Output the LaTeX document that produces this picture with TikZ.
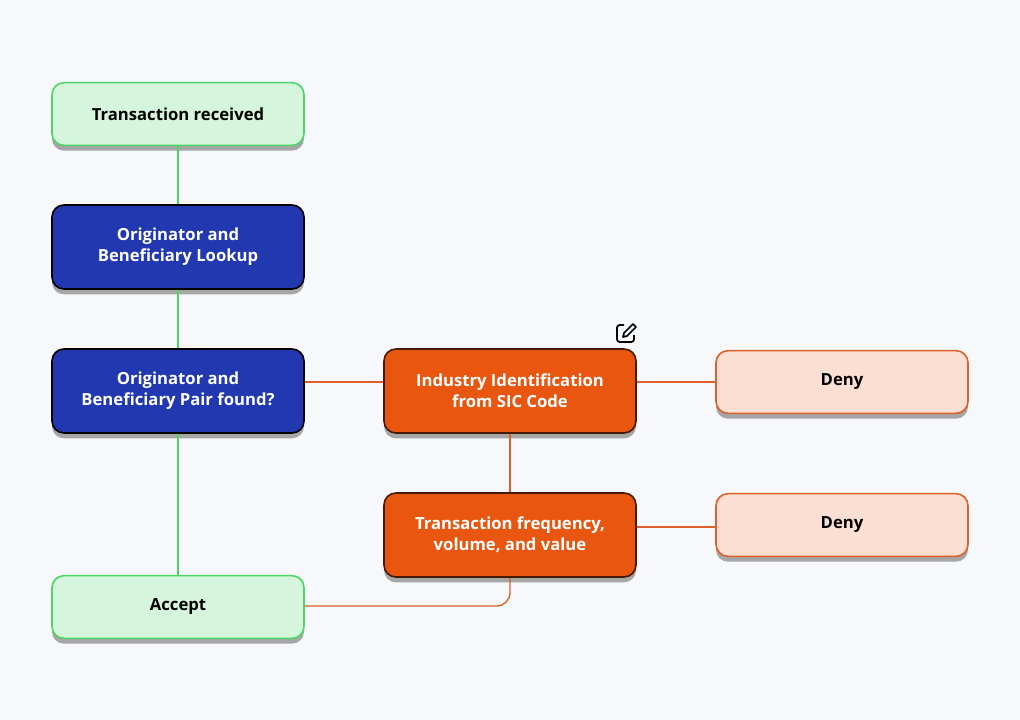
\documentclass[tikz,border=0pt]{standalone}
\usepackage{fontspec}
\setmainfont{Open Sans}
\usetikzlibrary{positioning,shadows}
\definecolor{bgc}{RGB}{247,248,252}
\definecolor{grnfill}{RGB}{213,246,220}
\definecolor{grnline}{RGB}{76,214,100}
\definecolor{bluefill}{RGB}{33,56,176}
\definecolor{orgfill}{RGB}{232,86,16}
\definecolor{orgline}{RGB}{222,96,40}
\definecolor{peach}{RGB}{252,223,211}
\tikzset{every picture/.style={line width=0.75pt}}
\tikzset{
  box/.style={rectangle, rounded corners=9pt, minimum width=189pt, align=center,
    font=\fontsize{12.5}{16}\selectfont\bfseries,
    drop shadow={shadow xshift=0pt, shadow yshift=-4pt, fill=black!35, opacity=1}},
  okbox/.style={box, fill=grnfill, draw=grnline, line width=1.2pt, minimum height=47pt},
  stepbox/.style={box, fill=bluefill, draw=black, line width=1.2pt, text=white, minimum height=63pt},
  checkbox/.style={box, fill=orgfill, draw=black!70!orgfill, line width=1.2pt, text=white, minimum height=63pt},
  denybox/.style={box, fill=peach, draw=orgline, line width=1.2pt, minimum height=47pt},
  gline/.style={draw=grnline, line width=1pt},
  oline/.style={draw=orgline, line width=1pt}
}
\begin{document}
\begin{tikzpicture}[x=0.75pt,y=0.75pt,yscale=-1,xscale=1]
\fill[bgc] (0,0) rectangle (1020,720);

% left column
\node[okbox] (recv) at (178,114) {Transaction received};
\node[stepbox] (lookup) at (178,247) {Originator and\\Beneficiary Lookup};
\node[stepbox] (pair) at (178,391) {Originator and\\Beneficiary Pair found?};
\node[okbox] (accept) at (178,607) {Accept};

% checks
\node[checkbox] (sic) at (510,391) {Industry Identification\\from SIC Code};
\node[checkbox] (freq) at (510,535) {Transaction frequency,\\volume, and value};

% outcomes
\node[denybox] (deny1) at (842,382) {Deny};
\node[denybox] (deny2) at (842,525) {Deny};

% connectors
\draw[gline] (recv) -- (lookup);
\draw[gline] (lookup) -- (pair);
\draw[gline] (pair) -- (accept);
\draw[oline] (pair.east |- 0,382) -- (sic.west |- 0,382);
\draw[oline] (sic.east |- 0,382) -- (deny1);
\draw[oline] (sic) -- (freq);
\draw[oline] (freq.east |- 0,527) -- (deny2.west |- 0,527);
\draw[oline, rounded corners=10pt] (freq.south) -- (510,606) -- (accept.east |- 0,606);

% edit icon
\draw[line width=1.3pt, rounded corners=2pt] (624,325) -- (617,325) -- (617,342) -- (634,342) -- (634,335);
\draw[line width=1.3pt, line join=round] (623,337) -- (624,333) -- (633,324) -- (636,327) -- (627,336) -- cycle;
\end{tikzpicture}
\end{document}
